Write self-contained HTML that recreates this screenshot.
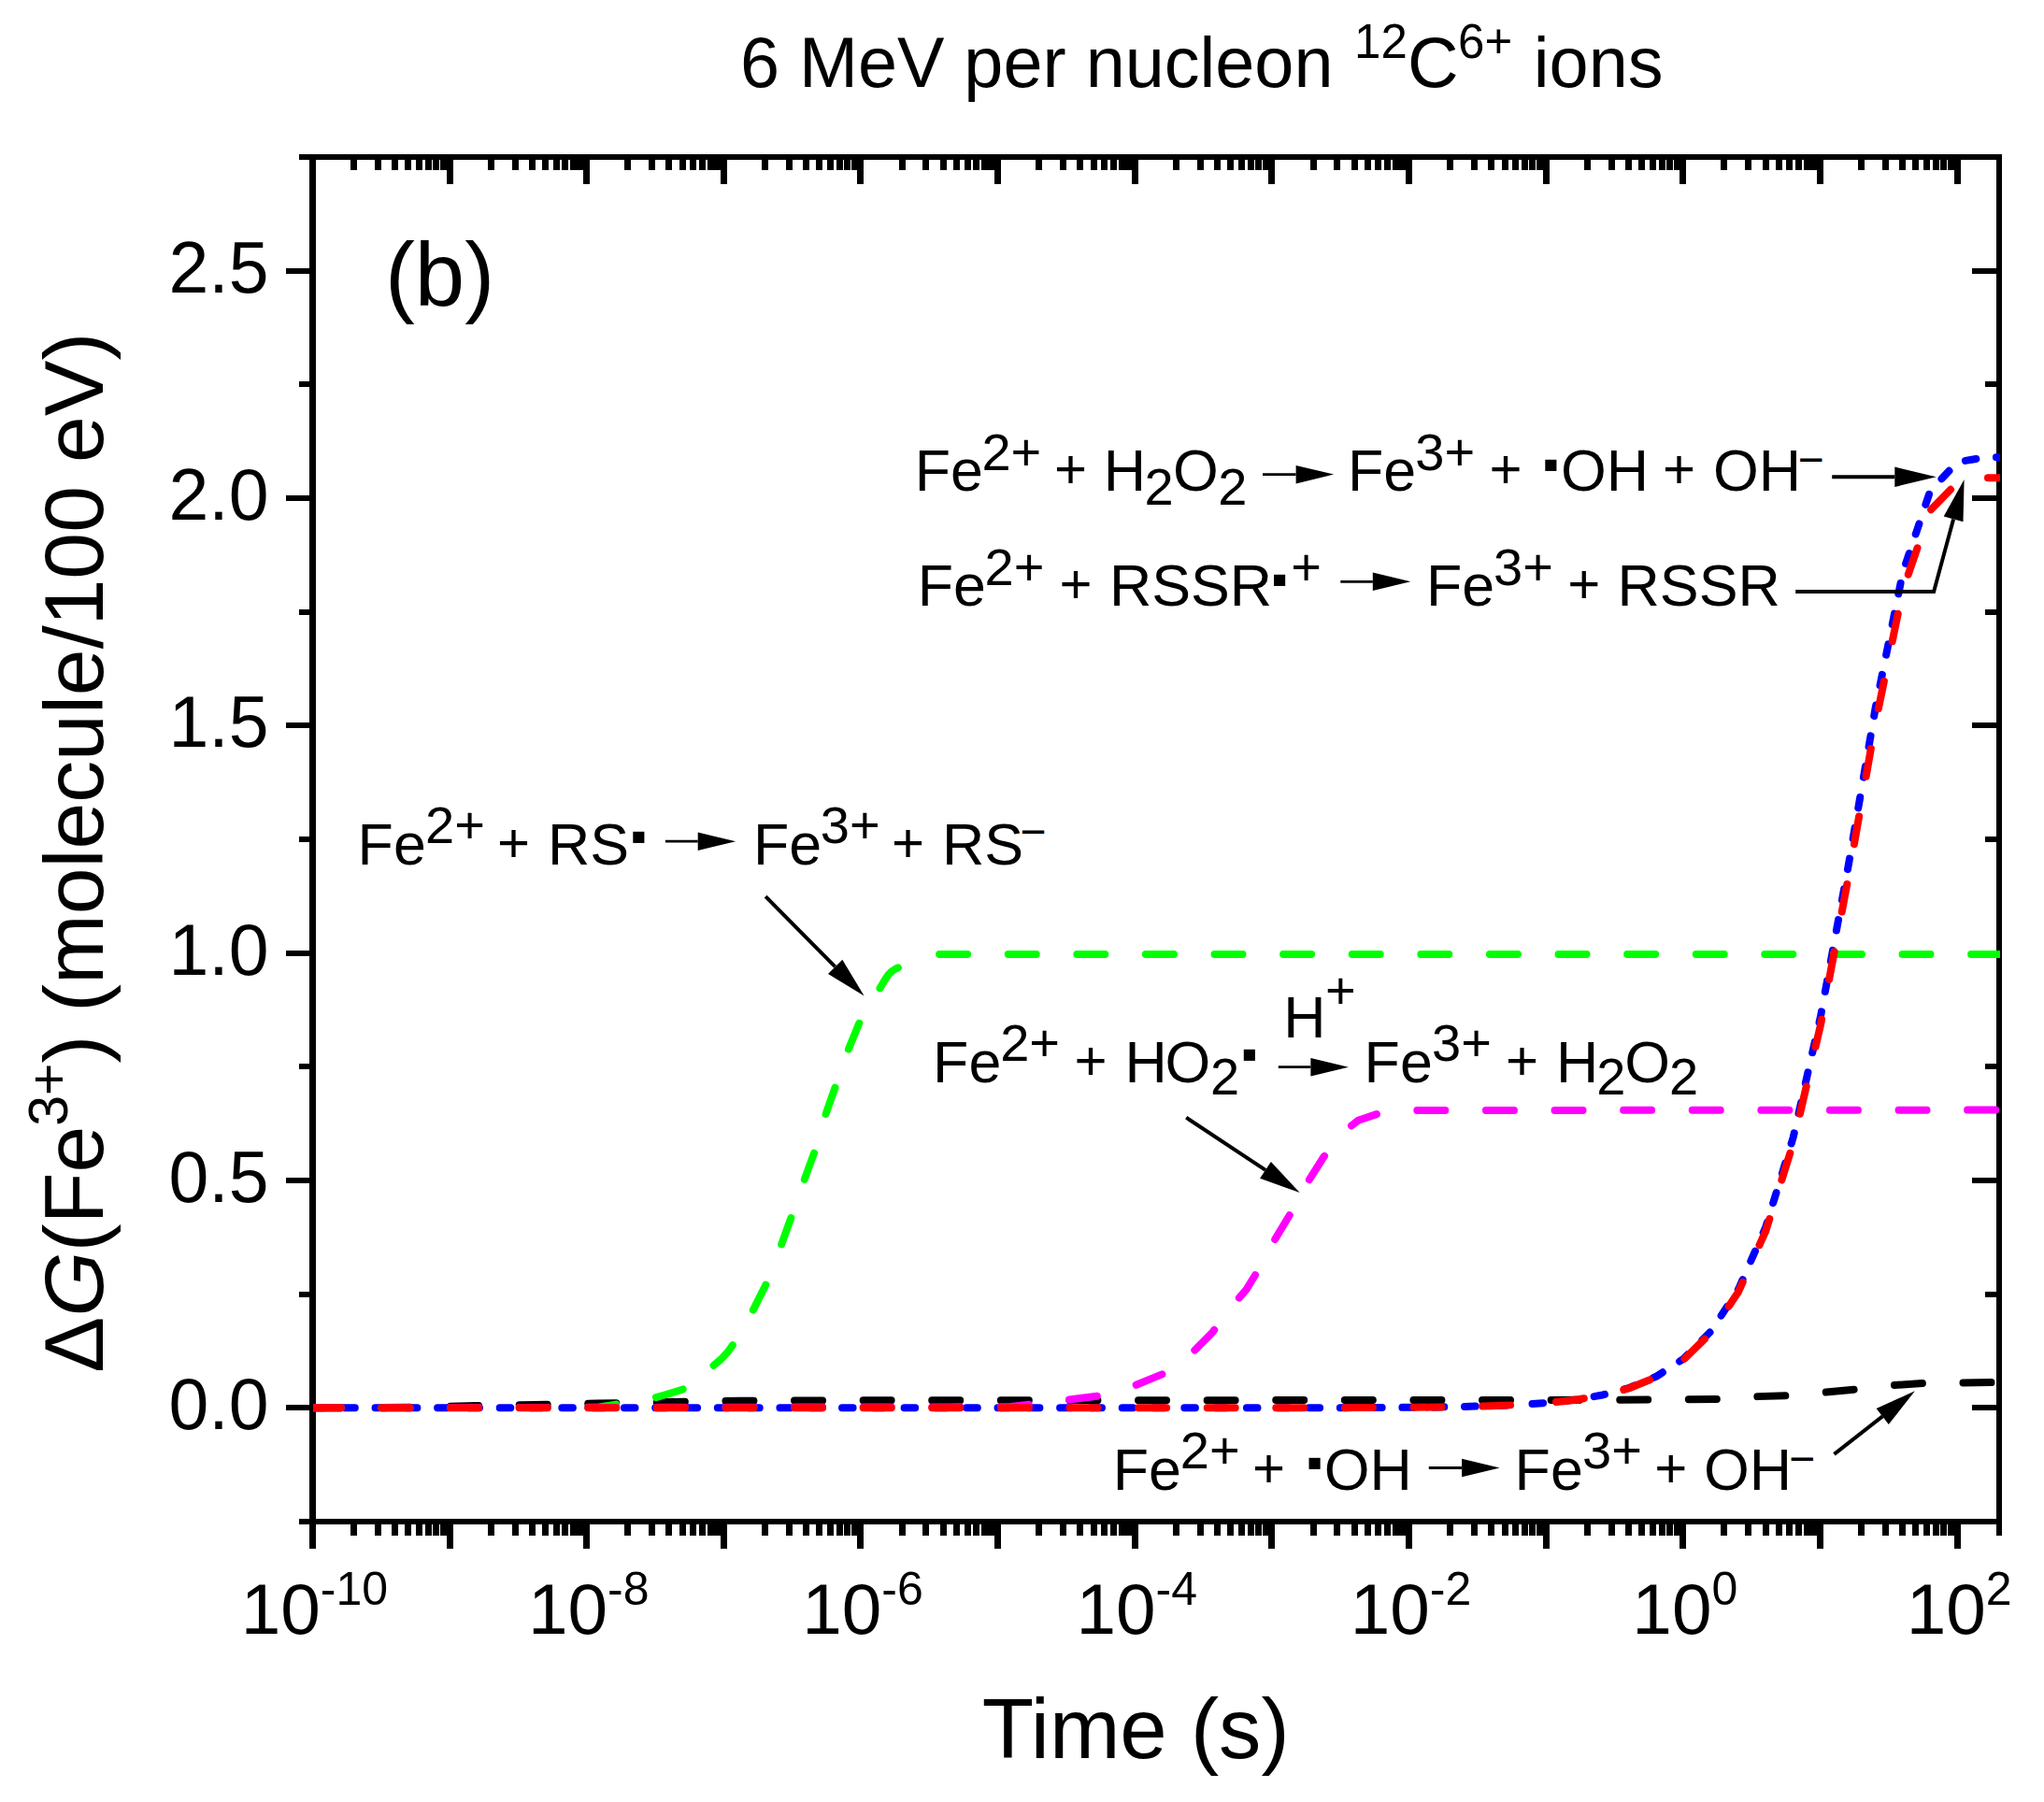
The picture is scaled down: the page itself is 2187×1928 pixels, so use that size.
<!DOCTYPE html>
<html><head><meta charset="utf-8"><title>6 MeV per nucleon 12C6+ ions</title>
<style>html,body{margin:0;padding:0;background:#fff}svg{display:block}</style></head>
<body>
<svg width="2187" height="1928" viewBox="0 0 2187 1928" font-family="'Liberation Sans', sans-serif" fill="#000">
<rect width="2187" height="1928" fill="#fff"/>
<defs><clipPath id="pc"><rect x="334.9" y="165.0" width="1805.1" height="1466.0"/></clipPath></defs>
<g shape-rendering="crispEdges">
<rect x="320" y="165" width="1822" height="6"/>
<rect x="320" y="1625" width="1822" height="6"/>
<rect x="331" y="165" width="7" height="1492"/>
<rect x="2136" y="165" width="6" height="1478"/>
<rect x="331" y="1631" width="7" height="26"/>
<rect x="331" y="171" width="7" height="26"/>
<rect x="375" y="1631" width="7" height="12"/>
<rect x="375" y="171" width="7" height="11"/>
<rect x="401" y="1631" width="7" height="12"/>
<rect x="401" y="171" width="7" height="11"/>
<rect x="419" y="1631" width="7" height="12"/>
<rect x="419" y="171" width="7" height="11"/>
<rect x="433" y="1631" width="7" height="12"/>
<rect x="433" y="171" width="7" height="11"/>
<rect x="445" y="1631" width="7" height="12"/>
<rect x="445" y="171" width="7" height="11"/>
<rect x="455" y="1631" width="7" height="12"/>
<rect x="455" y="171" width="7" height="11"/>
<rect x="463" y="1631" width="7" height="12"/>
<rect x="463" y="171" width="7" height="11"/>
<rect x="471" y="1631" width="7" height="12"/>
<rect x="471" y="171" width="7" height="11"/>
<rect x="478" y="1631" width="7" height="26"/>
<rect x="478" y="171" width="7" height="26"/>
<rect x="522" y="1631" width="7" height="12"/>
<rect x="522" y="171" width="7" height="11"/>
<rect x="548" y="1631" width="7" height="12"/>
<rect x="548" y="171" width="7" height="11"/>
<rect x="566" y="1631" width="7" height="12"/>
<rect x="566" y="171" width="7" height="11"/>
<rect x="580" y="1631" width="7" height="12"/>
<rect x="580" y="171" width="7" height="11"/>
<rect x="592" y="1631" width="7" height="12"/>
<rect x="592" y="171" width="7" height="11"/>
<rect x="601" y="1631" width="7" height="12"/>
<rect x="601" y="171" width="7" height="11"/>
<rect x="610" y="1631" width="7" height="12"/>
<rect x="610" y="171" width="7" height="11"/>
<rect x="617" y="1631" width="7" height="12"/>
<rect x="617" y="171" width="7" height="11"/>
<rect x="624" y="1631" width="7" height="26"/>
<rect x="624" y="171" width="7" height="26"/>
<rect x="668" y="1631" width="7" height="12"/>
<rect x="668" y="171" width="7" height="11"/>
<rect x="694" y="1631" width="7" height="12"/>
<rect x="694" y="171" width="7" height="11"/>
<rect x="712" y="1631" width="7" height="12"/>
<rect x="712" y="171" width="7" height="11"/>
<rect x="727" y="1631" width="7" height="12"/>
<rect x="727" y="171" width="7" height="11"/>
<rect x="738" y="1631" width="7" height="12"/>
<rect x="738" y="171" width="7" height="11"/>
<rect x="748" y="1631" width="7" height="12"/>
<rect x="748" y="171" width="7" height="11"/>
<rect x="757" y="1631" width="7" height="12"/>
<rect x="757" y="171" width="7" height="11"/>
<rect x="764" y="1631" width="7" height="12"/>
<rect x="764" y="171" width="7" height="11"/>
<rect x="771" y="1631" width="7" height="26"/>
<rect x="771" y="171" width="7" height="26"/>
<rect x="815" y="1631" width="7" height="12"/>
<rect x="815" y="171" width="7" height="11"/>
<rect x="841" y="1631" width="7" height="12"/>
<rect x="841" y="171" width="7" height="11"/>
<rect x="859" y="1631" width="7" height="12"/>
<rect x="859" y="171" width="7" height="11"/>
<rect x="873" y="1631" width="7" height="12"/>
<rect x="873" y="171" width="7" height="11"/>
<rect x="885" y="1631" width="7" height="12"/>
<rect x="885" y="171" width="7" height="11"/>
<rect x="895" y="1631" width="7" height="12"/>
<rect x="895" y="171" width="7" height="11"/>
<rect x="903" y="1631" width="7" height="12"/>
<rect x="903" y="171" width="7" height="11"/>
<rect x="911" y="1631" width="7" height="12"/>
<rect x="911" y="171" width="7" height="11"/>
<rect x="917" y="1631" width="7" height="26"/>
<rect x="917" y="171" width="7" height="26"/>
<rect x="962" y="1631" width="7" height="12"/>
<rect x="962" y="171" width="7" height="11"/>
<rect x="987" y="1631" width="7" height="12"/>
<rect x="987" y="171" width="7" height="11"/>
<rect x="1006" y="1631" width="7" height="12"/>
<rect x="1006" y="171" width="7" height="11"/>
<rect x="1020" y="1631" width="7" height="12"/>
<rect x="1020" y="171" width="7" height="11"/>
<rect x="1032" y="1631" width="7" height="12"/>
<rect x="1032" y="171" width="7" height="11"/>
<rect x="1041" y="1631" width="7" height="12"/>
<rect x="1041" y="171" width="7" height="11"/>
<rect x="1050" y="1631" width="7" height="12"/>
<rect x="1050" y="171" width="7" height="11"/>
<rect x="1057" y="1631" width="7" height="12"/>
<rect x="1057" y="171" width="7" height="11"/>
<rect x="1064" y="1631" width="7" height="26"/>
<rect x="1064" y="171" width="7" height="26"/>
<rect x="1108" y="1631" width="7" height="12"/>
<rect x="1108" y="171" width="7" height="11"/>
<rect x="1134" y="1631" width="7" height="12"/>
<rect x="1134" y="171" width="7" height="11"/>
<rect x="1152" y="1631" width="7" height="12"/>
<rect x="1152" y="171" width="7" height="11"/>
<rect x="1167" y="1631" width="7" height="12"/>
<rect x="1167" y="171" width="7" height="11"/>
<rect x="1178" y="1631" width="7" height="12"/>
<rect x="1178" y="171" width="7" height="11"/>
<rect x="1188" y="1631" width="7" height="12"/>
<rect x="1188" y="171" width="7" height="11"/>
<rect x="1197" y="1631" width="7" height="12"/>
<rect x="1197" y="171" width="7" height="11"/>
<rect x="1204" y="1631" width="7" height="12"/>
<rect x="1204" y="171" width="7" height="11"/>
<rect x="1211" y="1631" width="7" height="26"/>
<rect x="1211" y="171" width="7" height="26"/>
<rect x="1255" y="1631" width="7" height="12"/>
<rect x="1255" y="171" width="7" height="11"/>
<rect x="1281" y="1631" width="7" height="12"/>
<rect x="1281" y="171" width="7" height="11"/>
<rect x="1299" y="1631" width="7" height="12"/>
<rect x="1299" y="171" width="7" height="11"/>
<rect x="1313" y="1631" width="7" height="12"/>
<rect x="1313" y="171" width="7" height="11"/>
<rect x="1325" y="1631" width="7" height="12"/>
<rect x="1325" y="171" width="7" height="11"/>
<rect x="1335" y="1631" width="7" height="12"/>
<rect x="1335" y="171" width="7" height="11"/>
<rect x="1343" y="1631" width="7" height="12"/>
<rect x="1343" y="171" width="7" height="11"/>
<rect x="1351" y="1631" width="7" height="12"/>
<rect x="1351" y="171" width="7" height="11"/>
<rect x="1357" y="1631" width="7" height="26"/>
<rect x="1357" y="171" width="7" height="26"/>
<rect x="1402" y="1631" width="7" height="12"/>
<rect x="1402" y="171" width="7" height="11"/>
<rect x="1427" y="1631" width="7" height="12"/>
<rect x="1427" y="171" width="7" height="11"/>
<rect x="1446" y="1631" width="7" height="12"/>
<rect x="1446" y="171" width="7" height="11"/>
<rect x="1460" y="1631" width="7" height="12"/>
<rect x="1460" y="171" width="7" height="11"/>
<rect x="1471" y="1631" width="7" height="12"/>
<rect x="1471" y="171" width="7" height="11"/>
<rect x="1481" y="1631" width="7" height="12"/>
<rect x="1481" y="171" width="7" height="11"/>
<rect x="1490" y="1631" width="7" height="12"/>
<rect x="1490" y="171" width="7" height="11"/>
<rect x="1497" y="1631" width="7" height="12"/>
<rect x="1497" y="171" width="7" height="11"/>
<rect x="1504" y="1631" width="7" height="26"/>
<rect x="1504" y="171" width="7" height="26"/>
<rect x="1548" y="1631" width="7" height="12"/>
<rect x="1548" y="171" width="7" height="11"/>
<rect x="1574" y="1631" width="7" height="12"/>
<rect x="1574" y="171" width="7" height="11"/>
<rect x="1592" y="1631" width="7" height="12"/>
<rect x="1592" y="171" width="7" height="11"/>
<rect x="1607" y="1631" width="7" height="12"/>
<rect x="1607" y="171" width="7" height="11"/>
<rect x="1618" y="1631" width="7" height="12"/>
<rect x="1618" y="171" width="7" height="11"/>
<rect x="1628" y="1631" width="7" height="12"/>
<rect x="1628" y="171" width="7" height="11"/>
<rect x="1636" y="1631" width="7" height="12"/>
<rect x="1636" y="171" width="7" height="11"/>
<rect x="1644" y="1631" width="7" height="12"/>
<rect x="1644" y="171" width="7" height="11"/>
<rect x="1651" y="1631" width="7" height="26"/>
<rect x="1651" y="171" width="7" height="26"/>
<rect x="1695" y="1631" width="7" height="12"/>
<rect x="1695" y="171" width="7" height="11"/>
<rect x="1721" y="1631" width="7" height="12"/>
<rect x="1721" y="171" width="7" height="11"/>
<rect x="1739" y="1631" width="7" height="12"/>
<rect x="1739" y="171" width="7" height="11"/>
<rect x="1753" y="1631" width="7" height="12"/>
<rect x="1753" y="171" width="7" height="11"/>
<rect x="1765" y="1631" width="7" height="12"/>
<rect x="1765" y="171" width="7" height="11"/>
<rect x="1775" y="1631" width="7" height="12"/>
<rect x="1775" y="171" width="7" height="11"/>
<rect x="1783" y="1631" width="7" height="12"/>
<rect x="1783" y="171" width="7" height="11"/>
<rect x="1791" y="1631" width="7" height="12"/>
<rect x="1791" y="171" width="7" height="11"/>
<rect x="1797" y="1631" width="7" height="26"/>
<rect x="1797" y="171" width="7" height="26"/>
<rect x="1841" y="1631" width="7" height="12"/>
<rect x="1841" y="171" width="7" height="11"/>
<rect x="1867" y="1631" width="7" height="12"/>
<rect x="1867" y="171" width="7" height="11"/>
<rect x="1886" y="1631" width="7" height="12"/>
<rect x="1886" y="171" width="7" height="11"/>
<rect x="1900" y="1631" width="7" height="12"/>
<rect x="1900" y="171" width="7" height="11"/>
<rect x="1911" y="1631" width="7" height="12"/>
<rect x="1911" y="171" width="7" height="11"/>
<rect x="1921" y="1631" width="7" height="12"/>
<rect x="1921" y="171" width="7" height="11"/>
<rect x="1930" y="1631" width="7" height="12"/>
<rect x="1930" y="171" width="7" height="11"/>
<rect x="1937" y="1631" width="7" height="12"/>
<rect x="1937" y="171" width="7" height="11"/>
<rect x="1944" y="1631" width="7" height="26"/>
<rect x="1944" y="171" width="7" height="26"/>
<rect x="1988" y="1631" width="7" height="12"/>
<rect x="1988" y="171" width="7" height="11"/>
<rect x="2014" y="1631" width="7" height="12"/>
<rect x="2014" y="171" width="7" height="11"/>
<rect x="2032" y="1631" width="7" height="12"/>
<rect x="2032" y="171" width="7" height="11"/>
<rect x="2046" y="1631" width="7" height="12"/>
<rect x="2046" y="171" width="7" height="11"/>
<rect x="2058" y="1631" width="7" height="12"/>
<rect x="2058" y="171" width="7" height="11"/>
<rect x="2068" y="1631" width="7" height="12"/>
<rect x="2068" y="171" width="7" height="11"/>
<rect x="2076" y="1631" width="7" height="12"/>
<rect x="2076" y="171" width="7" height="11"/>
<rect x="2084" y="1631" width="7" height="12"/>
<rect x="2084" y="171" width="7" height="11"/>
<rect x="2091" y="1631" width="7" height="26"/>
<rect x="2091" y="171" width="7" height="26"/>
<rect x="320" y="1625" width="11" height="6"/>
<rect x="2124" y="1625" width="12" height="6"/>
<rect x="306" y="1503" width="25" height="6"/>
<rect x="2110" y="1503" width="26" height="6"/>
<rect x="320" y="1382" width="11" height="6"/>
<rect x="2124" y="1382" width="12" height="6"/>
<rect x="306" y="1260" width="25" height="6"/>
<rect x="2110" y="1260" width="26" height="6"/>
<rect x="320" y="1138" width="11" height="6"/>
<rect x="2124" y="1138" width="12" height="6"/>
<rect x="306" y="1017" width="25" height="6"/>
<rect x="2110" y="1017" width="26" height="6"/>
<rect x="320" y="895" width="11" height="6"/>
<rect x="2124" y="895" width="12" height="6"/>
<rect x="306" y="773" width="25" height="6"/>
<rect x="2110" y="773" width="26" height="6"/>
<rect x="320" y="652" width="11" height="6"/>
<rect x="2124" y="652" width="12" height="6"/>
<rect x="306" y="530" width="25" height="6"/>
<rect x="2110" y="530" width="26" height="6"/>
<rect x="320" y="408" width="11" height="6"/>
<rect x="2124" y="408" width="12" height="6"/>
<rect x="306" y="287" width="25" height="6"/>
<rect x="2110" y="287" width="26" height="6"/>
<rect x="320" y="165" width="11" height="6"/>
<rect x="2124" y="165" width="12" height="6"/>
</g>
<g clip-path="url(#pc)">
<path d="M334.9,1506.3 L364.2,1506.3 L393.6,1506.3 L422.9,1506.3 L452.2,1506.3 L481.5,1506.3 L510.9,1506.3 L540.2,1506.3 L569.5,1506.3 L598.9,1506.3 L628.2,1506.3 L657.5,1506.3 L686.8,1506.3 L716.2,1506.3 L745.5,1506.3 L774.8,1506.3 L804.1,1506.3 L833.5,1506.3 L862.8,1506.3 L892.1,1506.3 L921.5,1506.3 L950.8,1506.3 L980.1,1506.3 L1009.4,1506.3 L1038.8,1506.3 L1068.1,1506.3 L1097.4,1506.3 L1126.8,1506.3 L1156.1,1506.3 L1185.4,1506.3 L1214.7,1506.3 L1244.1,1506.3 L1273.4,1506.3 L1302.7,1506.3 L1332.1,1506.3 L1361.4,1506.2 L1390.7,1506.2 L1420.0,1506.2 L1449.4,1506.1 L1478.7,1506.0 L1508.0,1505.8 L1537.3,1505.4 L1566.7,1504.9 L1596.0,1504.2 L1622.7,1503.0" fill="none" stroke="#0000ff" stroke-width="8" stroke-linecap="round" stroke-linejoin="round" stroke-dasharray="11.6 21.7"/>
<path d="M1622.7,1503.0 L1625.3,1502.9 L1654.7,1500.9 L1684.0,1497.8 L1713.3,1492.8 L1742.6,1485.1 L1772.0,1472.8 L1801.3,1453.8 L1830.6,1424.4 L1860.0,1379.5 L1889.3,1312.8 L1918.6,1217.2 L1947.9,1087.9 L1977.3,928.3 L2006.6,757.8 L2035.9,612.5 L2065.3,525.1 L2094.6,494.2 L2123.9,489.4 L2153.2,489.2" fill="none" stroke="#0000ff" stroke-width="8" stroke-linecap="round" stroke-linejoin="round" stroke-dasharray="11.6 21.7" stroke-dashoffset="16.45"/>
<path d="M334.9,1506.3 L437.5,1505.8 L510.9,1504.1 L572.5,1503.1 L638.4,1501.6 L719.1,1500.0 L792.4,1498.7 L921.5,1498.3 L1654.7,1498.0 L1729.4,1497.7 L1801.3,1497.3 L1842.4,1496.9 L1877.6,1494.2 L1914.2,1493.2 L1950.9,1489.8 L1989.0,1486.2 L2024.2,1482.2 L2062.3,1479.7 L2097.5,1479.5 L2140.0,1479.0" fill="none" stroke="#000000" stroke-width="8" stroke-linecap="round" stroke-linejoin="round" stroke-dasharray="30 43.6"/>
<path d="M334.9,1506.3 L640.0,1505.8 L698.9,1495.9 L714.5,1491.5 L731.5,1486.2 L748.0,1473.3" fill="none" stroke="#00ff00" stroke-width="8" stroke-linecap="round" stroke-linejoin="round" stroke-dasharray="30 43.6"/>
<path d="M748.0,1473.3 L759.5,1464.3 L771.4,1454.4 L778.9,1446.3 L784.6,1438.2 L806.1,1401.1 L821.6,1370.0 L827.4,1354.5" fill="none" stroke="#00ff00" stroke-width="8" stroke-linecap="round" stroke-linejoin="round" stroke-dasharray="30 43.6" stroke-dashoffset="53.8"/>
<path d="M827.4,1354.5 L835.6,1332.8 L847.4,1300.1 L860.5,1262.8 L872.3,1230.2 L883.2,1192.9 L894.7,1160.3 L907.7,1123.0 L921.1,1090.3 L941.9,1056.7 L947.0,1048.0 L950.9,1042.4 L954.5,1039.0 L958.4,1036.5 L963.6,1034.2 L975.0,1030.0 L981.4,1028.0" fill="none" stroke="#00ff00" stroke-width="8" stroke-linecap="round" stroke-linejoin="round" stroke-dasharray="30 43.6" stroke-dashoffset="48.8"/>
<path d="M981.4,1028.0 L1003.4,1021.0 L2143.7,1021.0" fill="none" stroke="#00ff00" stroke-width="8" stroke-linecap="round" stroke-linejoin="round" stroke-dasharray="30 43.6" stroke-dashoffset="48.8"/>
<path d="M334.9,1506.3 L1080.0,1505.3 L1143.1,1497.6 L1177.5,1493.3 L1213.0,1482.9 L1245.3,1469.6 L1273.3,1449.6 L1297.0,1425.9 L1322.4,1392.5 L1333.6,1379.6 L1342.8,1364.5 L1362.6,1328.6 L1379.9,1299.9 L1398.8,1265.5 L1416.5,1237.5 L1442.3,1207.4 L1453.1,1198.8 L1473.5,1191.9 L1513.3,1188.0 L2143.7,1187.6" fill="none" stroke="#ff00ff" stroke-width="8" stroke-linecap="round" stroke-linejoin="round" stroke-dasharray="30 43.6"/>
<path d="M334.9,1506.3 L364.2,1506.3 L393.6,1506.3 L422.9,1506.3 L452.2,1506.3 L481.5,1506.3 L510.9,1506.3 L540.2,1506.3 L569.5,1506.3 L598.9,1506.3 L628.2,1506.3 L657.5,1506.3 L686.8,1506.3 L716.2,1506.3 L745.5,1506.3 L774.8,1506.3 L804.1,1506.3 L833.5,1506.3 L862.8,1506.3 L892.1,1506.3 L921.5,1506.3 L950.8,1506.3 L980.1,1506.3 L1009.4,1506.3 L1038.8,1506.3 L1068.1,1506.3 L1097.4,1506.3 L1126.8,1506.3 L1156.1,1506.3 L1185.4,1506.3 L1214.7,1506.3 L1244.1,1506.3 L1273.4,1506.3 L1302.7,1506.3 L1332.1,1506.3 L1361.4,1506.2 L1390.7,1506.2 L1420.0,1506.2 L1449.4,1506.1 L1478.7,1506.0 L1508.0,1505.8 L1537.3,1505.5 L1566.7,1505.0 L1596.0,1504.2 L1625.3,1503.0 L1637.8,1502.2" fill="none" stroke="#ff0000" stroke-width="8" stroke-linecap="round" stroke-linejoin="round" stroke-dasharray="30 43.6"/>
<path d="M1637.8,1502.2 L1654.7,1501.0 L1684.0,1498.0 L1713.3,1493.1 L1742.6,1485.5 L1772.0,1473.6 L1801.3,1454.9 L1830.6,1426.1 L1860.0,1382.2 L1889.3,1317.0 L1918.6,1223.4 L1947.9,1096.9 L1977.3,940.7 L2006.6,773.9 L2035.9,631.7 L2065.3,546.2 L2094.6,516.0 L2123.9,511.3 L2153.2,511.1" fill="none" stroke="#ff0000" stroke-width="8" stroke-linecap="round" stroke-linejoin="round" stroke-dasharray="30 43.6" stroke-dashoffset="46.3"/>
</g>
<path d="M1351.0,507.6 L1386.6,507.6" fill="none" stroke="#000" stroke-width="2.8" stroke-linejoin="miter"/>
<path d="M1427.1,507.6 L1386.6,517.4 L1386.6,497.9Z"/>
<path d="M1960.2,510.3 L2027.3,510.3" fill="none" stroke="#000" stroke-width="4" stroke-linejoin="miter"/>
<path d="M2071.8,510.3 L2027.3,521.0 L2027.3,499.6Z"/>
<path d="M1434.3,622.3 L1468.8,622.3" fill="none" stroke="#000" stroke-width="2.8" stroke-linejoin="miter"/>
<path d="M1509.3,622.3 L1468.8,632.0 L1468.8,612.5Z"/>
<path d="M1921.2,633.0 L2069.1,633.0 L2090.1,555.4" fill="none" stroke="#000" stroke-width="4" stroke-linejoin="miter"/>
<path d="M2101.6,512.9 L2100.5,558.2 L2079.7,552.6Z"/>
<path d="M711.9,900.2 L746.7,900.2" fill="none" stroke="#000" stroke-width="2.8" stroke-linejoin="miter"/>
<path d="M787.2,900.2 L746.7,910.0 L746.7,890.5Z"/>
<path d="M819.1,959.2 L893.6,1034.4" fill="none" stroke="#000" stroke-width="4" stroke-linejoin="miter"/>
<path d="M924.6,1065.6 L886.0,1041.9 L901.3,1026.8Z"/>
<path d="M1367.8,1141.7 L1402.4,1141.7" fill="none" stroke="#000" stroke-width="2.8" stroke-linejoin="miter"/>
<path d="M1442.9,1141.7 L1402.4,1151.5 L1402.4,1132.0Z"/>
<path d="M1269.2,1195.7 L1354.0,1251.8" fill="none" stroke="#000" stroke-width="4" stroke-linejoin="miter"/>
<path d="M1390.7,1276.1 L1348.1,1260.8 L1359.9,1242.9Z"/>
<path d="M1528.8,1570.5 L1564.1,1570.5" fill="none" stroke="#000" stroke-width="2.8" stroke-linejoin="miter"/>
<path d="M1604.6,1570.5 L1564.1,1580.2 L1564.1,1560.8Z"/>
<path d="M1962.5,1555.8 L2014.2,1515.4" fill="none" stroke="#000" stroke-width="4" stroke-linejoin="miter"/>
<path d="M2048.9,1488.3 L2020.8,1523.9 L2007.6,1506.9Z"/>
<text x="978.8" y="525.0" font-size="62.7">Fe</text>
<text x="1050.4" y="502.8" font-size="56">2+</text>
<text x="1128.0" y="522.2" font-size="60">+</text>
<text x="1180.8" y="525.0" font-size="62.7">H</text>
<text x="1224.6" y="539.9" font-size="56">2</text>
<text x="1255.0" y="525.0" font-size="62.7">O</text>
<text x="1303.3" y="539.9" font-size="56">2</text>
<text x="1441.9" y="525.0" font-size="62.7">Fe</text>
<text x="1514.3" y="502.8" font-size="56">3+</text>
<text x="1593.6" y="522.2" font-size="60">+</text>
<text x="1650.4" y="512.6" font-size="49">▪</text>
<text x="1670.1" y="525.0" font-size="62.7">OH</text>
<text x="1779.1" y="522.2" font-size="60">+</text>
<text x="1833.1" y="525.0" font-size="62.7">OH</text>
<text x="1923.5" y="507.5" font-size="48">−</text>
<text x="981.8" y="647.9" font-size="62.7">Fe</text>
<text x="1053.6" y="626.3" font-size="56">2+</text>
<text x="1133.6" y="645.1" font-size="60">+</text>
<text x="1186.9" y="647.9" font-size="62.7">RSSR</text>
<text x="1360.3" y="635.5" font-size="49">▪</text>
<text x="1381.3" y="625.9" font-size="56">+</text>
<text x="1525.9" y="647.9" font-size="62.7">Fe</text>
<text x="1598.1" y="626.3" font-size="56">3+</text>
<text x="1677.3" y="645.1" font-size="60">+</text>
<text x="1730.6" y="647.9" font-size="62.7">RSSR</text>
<text x="382.6" y="925.1" font-size="62.7">Fe</text>
<text x="455.0" y="902.1" font-size="56">2+</text>
<text x="532.0" y="922.3" font-size="60">+</text>
<text x="586.1" y="925.1" font-size="62.7">RS</text>
<text x="674.4" y="911.3" font-size="49">▪</text>
<text x="806.0" y="925.1" font-size="62.7">Fe</text>
<text x="877.8" y="902.1" font-size="56">3+</text>
<text x="954.1" y="922.3" font-size="60">+</text>
<text x="1007.9" y="925.1" font-size="62.7">RS</text>
<text x="1091.2" y="906.2" font-size="48">−</text>
<text x="998.1" y="1157.6" font-size="62.7">Fe</text>
<text x="1070.2" y="1135.1" font-size="56">2+</text>
<text x="1149.4" y="1154.8" font-size="60">+</text>
<text x="1203.4" y="1157.6" font-size="62.7">H</text>
<text x="1246.5" y="1157.6" font-size="62.7">O</text>
<text x="1295.0" y="1171.3" font-size="56">2</text>
<text x="1328.0" y="1143.8" font-size="49">▪</text>
<text x="1373.3" y="1109.5" font-size="62.7">H</text>
<text x="1418.0" y="1079.2" font-size="56">+</text>
<text x="1459.6" y="1157.6" font-size="62.7">Fe</text>
<text x="1532.1" y="1135.1" font-size="56">3+</text>
<text x="1611.1" y="1154.8" font-size="60">+</text>
<text x="1664.9" y="1157.6" font-size="62.7">H</text>
<text x="1708.2" y="1171.3" font-size="56">2</text>
<text x="1738.3" y="1157.6" font-size="62.7">O</text>
<text x="1786.1" y="1171.3" font-size="56">2</text>
<text x="1190.8" y="1593.8" font-size="62.7">Fe</text>
<text x="1262.8" y="1570.8" font-size="56">2+</text>
<text x="1340.1" y="1591.0" font-size="60">+</text>
<text x="1397.8" y="1580.5" font-size="49">▪</text>
<text x="1416.7" y="1593.8" font-size="62.7">OH</text>
<text x="1620.6" y="1593.8" font-size="62.7">Fe</text>
<text x="1693.1" y="1570.8" font-size="56">3+</text>
<text x="1770.2" y="1591.0" font-size="60">+</text>
<text x="1822.9" y="1593.8" font-size="62.7">OH</text>
<text x="1913.9" y="1576.8" font-size="48">−</text>
<text x="411.9" y="327.2" font-size="96">(b)</text>
<text x="791.9" y="93.3" font-size="75.6">6 MeV per nucleon</text>
<text x="1449.1" y="61.6" font-size="51">12</text>
<text x="1506.1" y="93.3" font-size="75.6">C</text>
<text x="1560.1" y="61.6" font-size="51">6+</text>
<text x="1640.8" y="93.3" font-size="75.6">ions</text>
<text x="336.4" y="1747.6" font-size="76.5" text-anchor="middle">10<tspan font-size="50" dy="-31">-10</tspan></text>
<text x="629.7" y="1747.6" font-size="76.5" text-anchor="middle">10<tspan font-size="50" dy="-31">-8</tspan></text>
<text x="923.0" y="1747.6" font-size="76.5" text-anchor="middle">10<tspan font-size="50" dy="-31">-6</tspan></text>
<text x="1216.2" y="1747.6" font-size="76.5" text-anchor="middle">10<tspan font-size="50" dy="-31">-4</tspan></text>
<text x="1509.5" y="1747.6" font-size="76.5" text-anchor="middle">10<tspan font-size="50" dy="-31">-2</tspan></text>
<text x="1802.8" y="1747.6" font-size="76.5" text-anchor="middle">10<tspan font-size="50" dy="-31">0</tspan></text>
<text x="2096.1" y="1747.6" font-size="76.5" text-anchor="middle">10<tspan font-size="50" dy="-31">2</tspan></text>
<text x="287.5" y="1529.4" font-size="77" text-anchor="end">0.0</text>
<text x="287.5" y="1286.1" font-size="77" text-anchor="end">0.5</text>
<text x="287.5" y="1042.7" font-size="77" text-anchor="end">1.0</text>
<text x="287.5" y="799.4" font-size="77" text-anchor="end">1.5</text>
<text x="287.5" y="556.1" font-size="77" text-anchor="end">2.0</text>
<text x="287.5" y="312.7" font-size="77" text-anchor="end">2.5</text>
<text x="1050.8" y="1880.9" font-size="90.6">Time (s)</text>
<text transform="translate(109.9,1466) rotate(-90)" font-size="89.6" x="-2.7" y="0">Δ<tspan font-style="italic">G</tspan>(Fe<tspan font-size="59" dy="-38">3+</tspan><tspan dy="38">) (molecule/100 eV)</tspan></text>
</svg>
</body></html>
